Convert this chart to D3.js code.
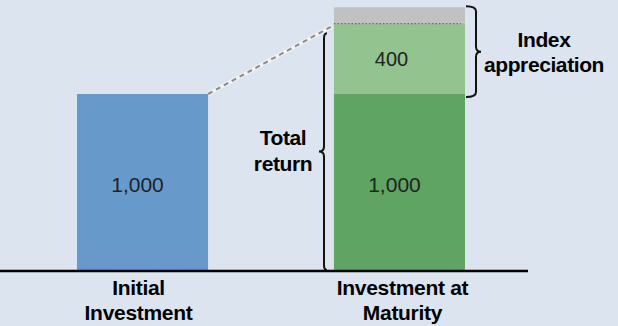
<!DOCTYPE html>
<html><head><meta charset="utf-8">
<script src="https://cdn.jsdelivr.net/npm/d3@7"></script>
<style>
html,body{margin:0;padding:0;background:#dbe4ef;}
svg{display:block;}
text{font-family:"Liberation Sans",Arial,sans-serif;}
</style></head>
<body>
<svg id="c" width="618" height="326"></svg>
<script>
const categories = ["Initial Investment", "Investment at Maturity"];
const categoryLines = [["Initial", "Investment"], ["Investment at", "Maturity"]];
const principal = [1000, 1000];
const appreciation = [0, 400];
const upside = [0, 90];
const valueLabels = ["1,000", "1,000"];
const appreciationLabel = "400";
const bracketLabels = { total: ["Total", "return"], index: ["Index", "appreciation"] };

const svg = d3.select("#c");
const x = d3.scaleBand().domain(categories).range([77, 465]).paddingInner(0.49).paddingOuter(0);
const y = d3.scaleLinear().domain([0, 1000]).range([271, 94]);
const bw = x.bandwidth();

const colors = { principal: ["#6899cb", "#5fa463"], appreciation: "#93c490", upside: "#c1c1c1" };

// stacked bars
categories.forEach((c, i) => {
  const x0 = x(c);
  svg.append("rect").attr("x", x0).attr("y", y(principal[i])).attr("width", bw)
    .attr("height", y(0) - y(principal[i])).attr("fill", colors.principal[i]);
  if (appreciation[i] > 0) {
    const top = principal[i] + appreciation[i];
    svg.append("rect").attr("x", x0).attr("y", y(top)).attr("width", bw)
      .attr("height", y(principal[i]) - y(top)).attr("fill", colors.appreciation);
    const top2 = top + upside[i];
    svg.append("rect").attr("x", x0).attr("y", y(top2)).attr("width", bw)
      .attr("height", y(top) - y(top2)).attr("fill", colors.upside);
    svg.append("line").attr("x1", x0).attr("x2", x0 + bw - 4).attr("y1", y(top) + 0.5).attr("y2", y(top) + 0.5)
      .attr("stroke", "#3f8a45").attr("stroke-width", 1.2).attr("stroke-dasharray", "1.5,2");
    svg.append("text").attr("x", x0 + bw / 2 - 8).attr("y", (y(top) + y(principal[i])) / 2 + 7)
      .attr("text-anchor", "middle").attr("font-size", 20).attr("fill", "#222").text(appreciationLabel);
  }
  svg.append("text").attr("x", x0 + bw / 2 - 5).attr("y", (y(principal[i]) + y(0)) / 2 + 9)
    .attr("text-anchor", "middle").attr("font-size", 21).attr("fill", "#222").text(valueLabels[i]);
  categoryLines[i].forEach((ln, k) => {
    svg.append("text").attr("x", x0 + bw / 2 + (i === 0 ? -4 : 3)).attr("y", 295 + k * 25)
      .attr("text-anchor", "middle").attr("font-size", 21).attr("font-weight", "bold")
      .attr("letter-spacing", "-0.3").attr("fill", "#000").text(ln);
  });
});

// connector line from initial to maturity
const c0 = categories[0], c1 = categories[1];
const topMat = principal[1] + appreciation[1];
svg.append("line").attr("x1", x(c0) + bw).attr("y1", y(principal[0]))
  .attr("x2", x(c1) - 2).attr("y2", y(topMat) + 3)
  .attr("stroke", "#f2f2f2").attr("stroke-width", 4);
svg.append("line").attr("x1", x(c0) + bw).attr("y1", y(principal[0]))
  .attr("x2", x(c1) - 2).attr("y2", y(topMat) + 3)
  .attr("stroke", "#8a8a8a").attr("stroke-width", 2).attr("stroke-dasharray", "5,4");

// axis baseline
svg.append("line").attr("x1", 0).attr("x2", 528).attr("y1", y(0)).attr("y2", y(0))
  .attr("stroke", "#000").attr("stroke-width", 2.5);

// brace helper (vertical), dir=1 points right, -1 points left
function brace(xb, y1, y2, dir, w) {
  const m = (y1 + y2) / 2, r = 5;
  const p = d3.path();
  p.moveTo(xb, y1);
  p.quadraticCurveTo(xb + dir * w, y1, xb + dir * w, y1 + r);
  p.lineTo(xb + dir * w, m - r);
  p.quadraticCurveTo(xb + dir * w, m, xb + dir * (w + 5), m);
  p.quadraticCurveTo(xb + dir * w, m, xb + dir * w, m + r);
  p.lineTo(xb + dir * w, y2 - r);
  p.quadraticCurveTo(xb + dir * w, y2, xb, y2);
  svg.append("path").attr("d", p.toString()).attr("fill", "none")
    .attr("stroke", "#111").attr("stroke-width", 2);
}
const xr = x(c1) + bw;
brace(xr + 1, y(topMat + upside[1]) - 1, y(principal[1]) + 3, 1, 10);
brace(327, y(topMat) + 10, y(0) - 1, -1, 3);

// bracket labels
bracketLabels.index.forEach((t, k) => {
  svg.append("text").attr("x", 544).attr("y", 47 + k * 25).attr("text-anchor", "middle")
    .attr("font-size", 21).attr("font-weight", "bold").attr("letter-spacing", "-0.4").text(t);
});
bracketLabels.total.forEach((t, k) => {
  svg.append("text").attr("x", 283).attr("y", 145 + k * 26).attr("text-anchor", "middle")
    .attr("font-size", 21).attr("font-weight", "bold").attr("letter-spacing", "-0.4").text(t);
});
</script>
</body></html>
